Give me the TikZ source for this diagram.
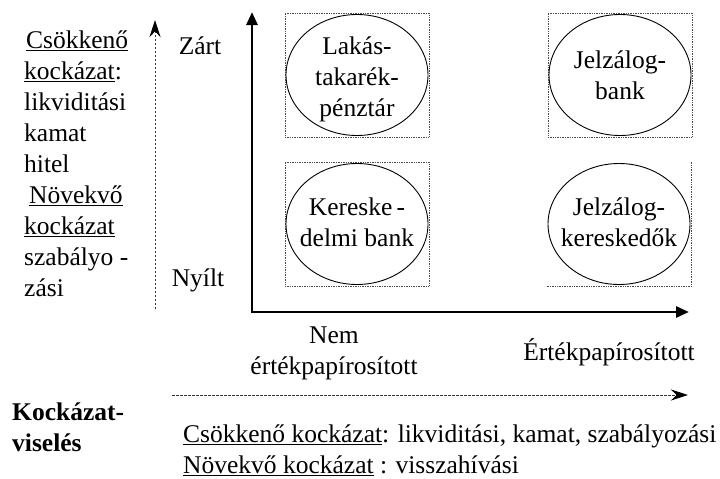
\documentclass[tikz,border=0pt]{standalone}
\usepackage{fontspec}
\setmainfont{Liberation Serif}
\usetikzlibrary{positioning,arrows.meta,shapes.geometric}

\begin{document}
\begin{tikzpicture}[x=1pt, y=-1pt,
  szoveg/.style={font=\fontsize{25.5}{31}\selectfont, inner sep=0pt, align=center},
  kor/.style={draw, ellipse, line width=0.9pt, minimum width=142pt, minimum height=121pt, inner sep=0pt},
  keret/.style={draw=black!70, densely dotted, line width=0.7pt, minimum width=144pt, minimum height=124pt, inner sep=0pt},
  tengely/.style={{Triangle[length=13pt,width=11pt]}-{Triangle[length=13pt,width=11pt]}, line width=2.8pt, line join=miter},
  szaggatott/.style={-{Stealth[length=17pt,width=11pt,color=black]}, draw=black!80, line width=1pt, dash pattern=on 2.5pt off 1.5pt}
]
\useasboundingbox (0,0) rectangle (720,479);

% tengelyek
\coordinate (origo) at (252,312);
\coordinate (felso) at (252,12);
\coordinate (jobb) at (689,312);
\draw[tengely] (felso) -- (origo) -- (jobb);

% keretek
\node[keret] (k1) at (357,75) {};
\node[keret] (k2) at (620,75) {};
\node[keret] (k3) at (357,224) {};
\node[keret, draw=none] (k4) at (619,224) {};
\draw[keret] (k4.south west) -- (k4.south east) -- (k4.north east);

% bankok
\node[kor] (lakas) at (357,75) {};
\node[kor] (jbank) at (620,75) {};
\node[kor] (kbank) at (357,224) {};
\node[kor] (jker) at (619,224) {};
\node[szoveg] (lakas-t) at ([yshift=-4pt]lakas) {Lakás-\\takarék-\\pénztár};
\node[szoveg] (jbank-t) at ([yshift=0pt]jbank) {Jelzálog-\\bank};
\node[szoveg] (kbank-t) at ([yshift=2pt]kbank) {Kereske\,-\\delmi bank};
\node[szoveg] (jker-t) at ([yshift=2pt]jker) {Jelzálog-\\kereskedők};

% bal oldal
\node[szoveg, align=left, anchor=north west] (bal) at (24,31) {\hspace{2pt}\underline{Csökkenő}\\\underline{kockázat}:\\likviditási\\kamat\\hitel\\\hspace{5pt}\underline{Növekvő}\\\underline{kockázat}\\szabályo -\\zási};
\coordinate (fel0) at (155,309);
\coordinate (fel1) at (155,20);
\draw[szaggatott] (fel0) -- (fel1);
\node[szoveg] (zart) at (200,46) {Zárt};
\node[szoveg] (nyilt) at (198,280) {Nyílt};

% alul
\node[szoveg] (nem) at (334,353) {Nem\\értékpapírosított};
\node[szoveg] (ertek) at (609,352) {Értékpapírosított};
\coordinate (vizsz0) at (172,395);
\coordinate (vizsz1) at (688,395);
\draw[szaggatott] (vizsz0) -- (vizsz1);
\node[szoveg, font=\fontsize{25.5}{31}\selectfont\bfseries, align=left, anchor=west] (viseles) at (12,427) {Kockázat-\\viselés};
\node[szoveg, align=left, anchor=west] (jelmagy) at (183,450) {\underline{Csökkenő kockázat}: likviditási, kamat, szabályozási\\\underline{Növekvő kockázat} : visszahívási};
\end{tikzpicture}
\end{document}
